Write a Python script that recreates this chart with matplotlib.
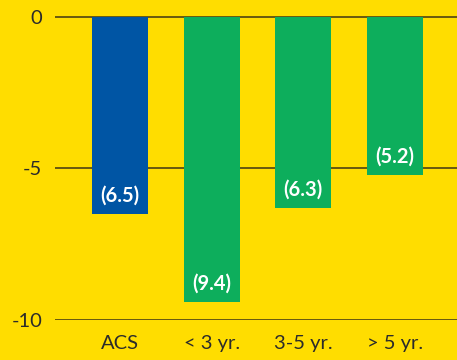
import matplotlib
matplotlib.use("Agg")
import matplotlib.pyplot as plt

# Datos
categorias = ["ACS", "< 3 yr.", "3-5 yr.", "> 5 yr."]
valores = [-6.5, -9.4, -6.3, -5.2]
etiquetas = ["(6.5)", "(9.4)", "(6.3)", "(5.2)"]
colores = ["#0055A4", "#0DAE5C", "#0DAE5C", "#0DAE5C"]

amarillo = "#FFDD00"
texto = "#2b2b2b"

plt.rcParams["font.family"] = ["Lato", "DejaVu Sans"]

fig = plt.figure(figsize=(4.57, 3.6), dpi=100, facecolor=amarillo)
ax = fig.add_axes([55 / 457, 40 / 360, 1 - 55 / 457, 320 / 360])
ax.set_facecolor(amarillo)

x = list(range(len(categorias)))
ax.bar(x, valores, width=0.61, color=colores, zorder=2)

for xi, v, lab in zip(x, valores, etiquetas):
    ax.text(xi, v + 0.6, lab, ha="center", va="center", color="white",
            fontsize=14.5, fontweight="bold", zorder=3)

ax.set_xlim(-0.71, 3.68)
ax.set_ylim(-10, 17 / 30.3)
ax.set_yticks([0, -5, -10])
ax.set_yticklabels(["0", "-5", "-10"])
ax.set_xticks(x)
ax.set_xticklabels(categorias)
ax.tick_params(axis="both", length=0, labelsize=14.5, colors=texto)
ax.tick_params(axis="y", pad=9)
ax.tick_params(axis="x", pad=11)

ax.grid(True, axis="y", color="#5c4f10", linewidth=1.3, zorder=1)
ax.set_axisbelow(True)
for s in ax.spines.values():
    s.set_visible(False)

fig.savefig("out.png", dpi=100, facecolor=amarillo)
